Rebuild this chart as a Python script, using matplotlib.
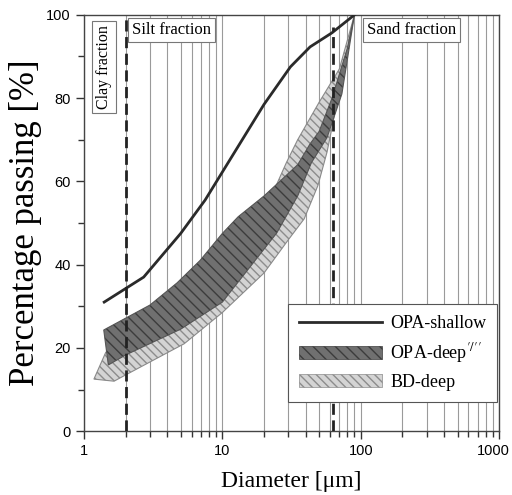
import numpy as np
import matplotlib.pyplot as plt
import matplotlib.transforms as mtransforms
from matplotlib.patches import Patch
from matplotlib.lines import Line2D

plt.rcParams['mathtext.fontset'] = 'stix'
plt.rcParams['hatch.linewidth'] = 1.0

# grain size curves (diameter in um, percent passing)
shallow_d = [1.4, 2.7, 5.0, 7.5, 20, 31, 43, 62, 90]
shallow_p = [31, 37, 47.5, 55.5, 78.5, 87.5, 92.3, 95.7, 100]

# OPA-deep envelope
deep_lo_d = [1.5, 2.0, 5.0, 10, 15.8, 24.7, 35, 44, 57, 73, 90]
deep_lo_p = [15.9, 18.3, 24.5, 31, 39.4, 47.6, 56.5, 64.5, 70.5, 81, 100]
deep_up_d = [1.39, 3.0, 4.7, 6.9, 10, 13, 20, 27, 35, 43, 50, 62, 80, 90]
deep_up_p = [24.3, 30.3, 35.6, 41, 47.5, 51.5, 56.5, 60.5, 64, 69, 72, 80, 92, 100]

# BD-deep envelope
bd_lo_d = [1.18, 1.65, 2.0, 5.3, 10, 20, 30, 39, 49, 57, 62, 70, 90]
bd_lo_p = [12.5, 12.0, 13.5, 21, 28.5, 38, 46, 51, 59, 67, 73, 82, 100]
bd_up_d = [1.44, 2.0, 5.0, 12, 18, 23, 29, 35, 50, 70, 90]
bd_up_p = [19, 19, 27, 40, 50, 57, 64.5, 70, 79, 87, 100]

clay_silt = 2
silt_sand = 63


def band(ax, lo_d, lo_p, up_d, up_p, face, hatch, hcol, ecol, z):
    xs = list(lo_d) + list(up_d[::-1])
    ys = list(lo_p) + list(up_p[::-1])
    ax.fill(xs, ys, facecolor=face, edgecolor='none', zorder=z)
    ax.fill(xs, ys, facecolor='none', edgecolor=hcol, hatch=hatch, linewidth=0, zorder=z)
    ax.fill(xs, ys, facecolor='none', edgecolor=ecol, linewidth=0.8, zorder=z)


fig = plt.figure(figsize=(5.12, 4.95), dpi=100)
ax = fig.add_axes([0.164, 0.129, 0.811, 0.841])
ax.set_xscale('log')
ax.set_xlim(1, 1000)
ax.set_ylim(0, 100)

ax.grid(True, which='both', axis='x', color='#9a9a9a', linewidth=0.8, zorder=0)
ax.set_axisbelow(True)

band(ax, bd_lo_d, bd_lo_p, bd_up_d, bd_up_p, '#d4d4d4', '\\\\\\\\', '#8c8c8c', '#8a8a8a', 2)
band(ax, deep_lo_d, deep_lo_p, deep_up_d, deep_up_p, '#707070', '\\\\\\', '#3c3c3c', '#555555', 3)

ax.plot(shallow_d, shallow_p, color='#2a2a2a', linewidth=2, zorder=4)

ax.plot([clay_silt, clay_silt], [0, 100], color='#222222', linewidth=2,
        dashes=(4, 2), zorder=5)
ax.plot([silt_sand, silt_sand], [0, 97], color='#222222', linewidth=2,
        dashes=(4, 2), zorder=5)

serif = ['Liberation Serif', 'DejaVu Serif']
box = dict(boxstyle='square,pad=0.25', facecolor='white', edgecolor='#777777', linewidth=0.8)
ax.text(1.39, 87.5, 'Clay fraction', rotation=90, ha='center', va='center',
        fontsize=11.5, family=serif, bbox=box, zorder=6)
ax.text(2.23, 98.3, 'Silt fraction', ha='left', va='top',
        fontsize=12, family=serif, bbox=box, zorder=6)
ax.text(111, 98.3, 'Sand fraction', ha='left', va='top',
        fontsize=12, family=serif, bbox=box, zorder=6)

ax.set_xlabel('Diameter [\u03bcm]', fontsize=17, family=serif, labelpad=9)
ax.set_ylabel('Percentage passing [%]', fontsize=25, family=serif, labelpad=3)

ax.set_yticks(np.arange(0, 101, 20))
ax.set_yticks(np.arange(0, 101, 10), minor=True)
ax.set_xticks([1, 10, 100, 1000])
ax.set_xticklabels(['1', '10', '100', '1000'])
ax.tick_params(which='major', direction='out', length=6, width=1, labelsize=10.5,
               color='#333333')
ax.tick_params(which='minor', direction='out', length=4, width=1, color='#333333')
for lab in ax.get_xticklabels() + ax.get_yticklabels():
    lab.set_family('Liberation Sans')
# keep the last x label inside the figure
last = ax.get_xticklabels()[-1]
last.set_transform(last.get_transform() +
                   mtransforms.ScaledTranslation(-4 / 72, 0, fig.dpi_scale_trans))
for s in ax.spines.values():
    s.set_color('#444444')
    s.set_linewidth(1)

handles = [
    Line2D([], [], color='#2a2a2a', linewidth=2),
    Patch(facecolor='#707070', edgecolor='#3c3c3c', hatch='\\\\\\', linewidth=0.5),
    Patch(facecolor='#d4d4d4', edgecolor='#8c8c8c', hatch='\\\\\\\\', linewidth=0.5),
]
labels = ['OPA-shallow', 'OPA-deep$^{\\prime/\\prime\\prime}$', 'BD-deep']
leg = ax.legend(handles, labels, loc='lower right', bbox_to_anchor=(0.995, 0.07),
                prop={'family': serif, 'size': 13}, handlelength=4.6, handleheight=0.75,
                fancybox=False, framealpha=1, edgecolor='#555555', borderpad=0.6,
                labelspacing=0.5, handletextpad=0.45, borderaxespad=0)
leg.get_frame().set_linewidth(0.8)
leg.set_zorder(7)

fig.savefig('out.png', dpi=100)
